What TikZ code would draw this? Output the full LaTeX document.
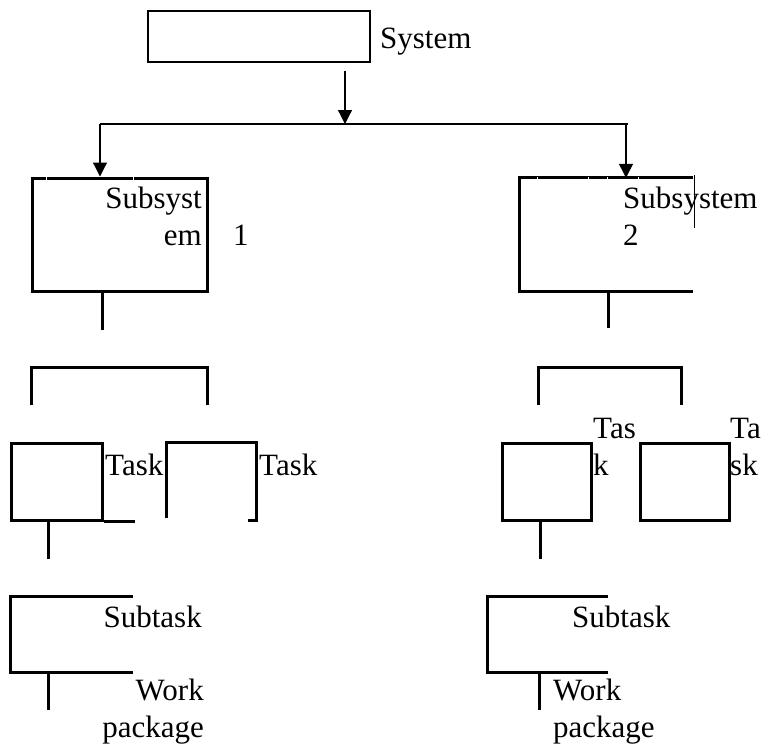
\documentclass[tikz,border=0pt]{standalone}
\usepackage{fontspec}
\setmainfont{Liberation Serif}
\usetikzlibrary{arrows.meta}
\tikzset{
  wbsbox/.style   = {rectangle, draw=black, line width=3pt, inner sep=0pt},
  wbsframe/.style = {rectangle, inner sep=0pt},
  wbsedge/.style  = {draw=black, line width=3pt},
  wbsthin/.style  = {draw=black, line width=1.2pt},
  wbsflow/.style  = {-{Triangle[length=14pt,width=14pt]}, draw=black, line width=1.2pt},
  wbslbl/.style   = {font=\fontsize{31}{37}\selectfont, inner sep=0pt},
  wbsgap/.style   = {draw=white, line width=1pt},
}
\begin{document}
\begin{tikzpicture}[x=1pt,y=-1pt]
  \useasboundingbox (0,0) rectangle (763,750);

  % top level
  \node[wbsbox, line width=1.2pt, minimum width=222pt, minimum height=51pt] (sys) at (259,36.5) {};
  \node[wbslbl, anchor=base west] (syslbl) at (380,48) {System};

  % subsystems
  \node[wbsbox, minimum width=175pt, minimum height=113pt] (sub1) at (119.5,234.5) {};
  \node[wbsframe, minimum width=173pt, minimum height=113pt] (sub2) at (606.5,234.5) {};
  \draw[wbsedge] (sub2.north east) -- (sub2.north west) -- (sub2.south west) -- (sub2.south east);
  \draw[wbsthin] ([xshift=1pt,yshift=3pt]sub2.north east) -- ++(0,53);
  \foreach \gx in {46,133,537,588,607,638}
    \draw[wbsgap] (\gx,176.5) -- (\gx,179.5);

  % multi-line labels sit on the baseline of their last line
  \node[wbslbl, align=right, anchor=base east] (sub1lbl) at (202,245) {Subsyst\\em};
  \node[wbslbl, anchor=base west] (sub1num) at (233,245) {1};
  \node[wbslbl, align=left, anchor=base west] (sub2lbl) at (623,245) {Subsystem\\2};

  \coordinate (sysout) at (345,71);
  \coordinate (hub)    at (345,124);
  \coordinate (hubL)   at (100,124);
  \coordinate (hubR)   at (626,124);
  \draw[wbsflow] (sysout) -- (hub);
  \draw[wbsthin] (hubL) -- ([xshift=2pt]hubR);
  \draw[wbsflow] (hubL) -- (hubL |- sub1.north);
  \draw[wbsflow] (hubR) -- (hubR |- sub2.north);

  % task groups
  \draw[wbsedge] ([xshift=-17.5pt]sub1.south) -- ++(0,37);
  \draw[wbsedge] ([xshift=1.5pt]sub2.south) -- ++(0,37);
  \node[wbsframe, minimum width=175pt, minimum height=37pt] (grp1) at (119.5,386.5) {};
  \node[wbsframe, minimum width=142pt, minimum height=37pt] (grp2) at (610,386.5) {};
  \draw[wbsedge] (grp1.south west) -- (grp1.north west) -- (grp1.north east) -- (grp1.south east);
  \draw[wbsedge] (grp2.south west) -- (grp2.north west) -- (grp2.north east) -- (grp2.south east);

  % tasks
  \node[wbsbox, minimum width=91pt, minimum height=77pt] (task1) at (56.5,481.5) {};
  \node[wbsframe, minimum width=89pt, minimum height=77pt] (task2) at (211.5,481.5) {};
  \node[wbsbox, minimum width=89pt, minimum height=77pt] (task3) at (546.5,481.5) {};
  \node[wbsbox, minimum width=89pt, minimum height=77pt] (task4) at (684.5,481.5) {};
  \draw[wbsedge] (task1.south east) -- ++(31,0);
  \draw[wbsedge] ([yshift=2pt]task2.south west) -- (task2.north west) -- (task2.north east)
                 -- (task2.south east) -- ++(-8,0);

  \node[wbslbl, anchor=base west] (task1lbl) at (105,475) {Task};
  \node[wbslbl, anchor=base west] (task2lbl) at (259,475) {Task};
  \node[wbslbl, align=left, anchor=base west] (task3lbl) at (593,475) {Tas\\k};
  \node[wbslbl, align=left, anchor=base west] (task4lbl) at (730,475) {Ta\\sk};

  % subtasks and work packages
  \draw[wbsedge] ([xshift=-8.5pt]task1.south) -- ++(0,37);
  \draw[wbsedge] ([xshift=-6.5pt]task3.south) -- ++(0,37);
  \node[wbsframe, minimum width=122pt, minimum height=75pt] (subt1) at (72,634.5) {};
  \node[wbsframe, minimum width=120pt, minimum height=75pt] (subt2) at (548,634.5) {};
  \draw[wbsedge] (subt1.north east) -- (subt1.north west) -- (subt1.south west) -- (subt1.south east);
  \draw[wbsedge] (subt2.north east) -- (subt2.north west) -- (subt2.south west) -- (subt2.south east);
  \node[wbslbl, anchor=base east] (subt1lbl) at (202,627) {Subtask};
  \node[wbslbl, anchor=base west] (subt2lbl) at (572,627) {Subtask};

  \draw[wbsedge] ([xshift=-24pt]subt1.south) -- ++(0,38);
  \draw[wbsedge] ([xshift=-9pt]subt2.south) -- ++(0,38);
  \node[wbslbl, align=right, anchor=base east] (wp1lbl) at (204,737) {Work\\package};
  \node[wbslbl, align=left, anchor=base west] (wp2lbl) at (553,737) {Work\\package};
\end{tikzpicture}
\end{document}
